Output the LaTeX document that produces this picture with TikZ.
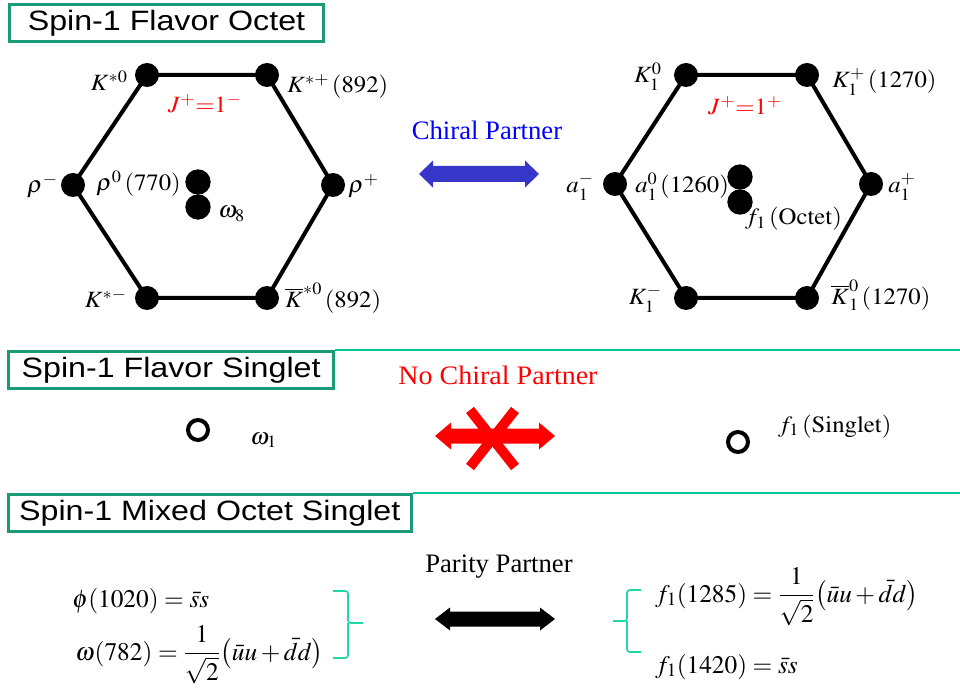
\documentclass[tikz,border=0pt]{standalone}
\usepackage{mathptmx}
\usepackage{fontspec}
\setmainfont{Liberation Serif}
\newfontfamily\titlefont{Liberation Sans}
\usepackage{graphicx}
\definecolor{boxgreen}{HTML}{1B9A78}
\definecolor{linegreen}{HTML}{00C896}
\definecolor{bracegreen}{HTML}{1ED8A8}
\definecolor{arrowblue}{HTML}{3636C8}
\newcommand\hsx[1]{\scalebox{1.06}[1]{#1}}
\newcommand\tsx[1]{\scalebox{1.15}[1]{#1}}
% colour, x1, x2, y, shaft half, head half, head length
\newcommand\fatdarrow[7]{%
  \fill[#1] (#2,#4) -- ({#2+#7},{#4-#6}) -- ({#2+#7},{#4-#5}) -- ({#3-#7},{#4-#5})
    -- ({#3-#7},{#4-#6}) -- (#3,#4) -- ({#3-#7},{#4+#6}) -- ({#3-#7},{#4+#5})
    -- ({#2+#7},{#4+#5}) -- ({#2+#7},{#4+#6}) -- cycle;}
\begin{document}
\begin{tikzpicture}[x=0.75pt,y=-0.75pt,
  dot/.style={circle,fill=black,inner sep=0pt,minimum size=18pt},
  cdot/.style={circle,fill=black,inner sep=0pt,minimum size=19pt},
  odot/.style={circle,draw=black,line width=3pt,inner sep=0pt,minimum size=15pt},
  hexedge/.style={line width=3pt},
  hl/.style={inner sep=0pt,font=\fontsize{17.5}{20}\selectfont},
  eq/.style={inner sep=0pt,font=\fontsize{19}{22}\selectfont},
  titlebox/.style={draw=boxgreen,line width=2.2pt,inner sep=0pt,minimum height=28pt,
    anchor=north west,font=\fontsize{21}{24}\titlefont},
  sepline/.style={draw=linegreen,line width=1.2pt},
  bracel/.style={draw=bracegreen,line width=1.2pt,rounded corners=2pt},
  ptext/.style={inner sep=0pt,font=\fontsize{20}{24}\selectfont}]
\useasboundingbox (0,0) rectangle (960,691);

% ---------- titles ----------
\node[titlebox,minimum width=235.5pt] (t1) at (8,3) {\tsx{Spin-1 Flavor Octet}};
\node[titlebox,minimum width=244pt] (t2) at (7,350) {\tsx{Spin-1 Flavor Singlet}};
\node[titlebox,minimum width=302pt] (t3) at (7,493) {\tsx{Spin-1 Mixed Octet Singlet}};
\coordinate (l2) at (960,350);
\coordinate (l3) at (960,493);
\draw[sepline] (t2.north east) -- (l2);
\draw[sepline] (t3.north east) -- (l3);

% ---------- left hexagon ----------
\node[dot] (L1) at (147,75) {};
\node[dot] (L2) at (267,75) {};
\node[dot] (L3) at (333,185) {};
\node[dot] (L4) at (267,298) {};
\node[dot] (L5) at (147,298) {};
\node[dot] (L6) at (73,185) {};
\draw[hexedge] (L1.center) -- (L2.center) -- (L3.center) -- (L4.center) -- (L5.center) -- (L6.center) -- cycle;
\node[cdot] (LC1) at (198,182) {};
\node[cdot] (LC2) at (198,207) {};

\node[hl,anchor=base east] (lk0) at (128,91) {\hsx{$K^{*0}$}};
\node[hl,anchor=base west] (lkp) at (287,93) {\hsx{$K^{*+}\,(892)$}};
\node[hl,anchor=base,text=red] (lj) at (205,113) {\hsx{$J^{+}{=}1^{-}$}};
\node[hl,anchor=base east] (lrm) at (58,193) {\hsx{$\rho^{-}$}};
\node[hl,anchor=base west] (lr0) at (96,191) {\hsx{$\rho^{0}\,(770)$}};
\node[hl,anchor=base west] (lw8) at (218,218) {\hsx{$\omega_{8}$}};
\node[hl,anchor=base west] (lrp) at (348,193) {\hsx{$\rho^{+}$}};
\node[hl,anchor=base east] (lkm) at (127,308) {\hsx{$K^{*-}$}};
\node[hl,anchor=base west] (lkb) at (285,308) {\hsx{$\overline{K}^{*0}\,(892)$}};

% ---------- chiral partner ----------
\node[ptext,text=blue,anchor=base] (cp) at (487,140) {Chiral Partner};
\fatdarrow{arrowblue}{419}{539}{174}{8}{13.5}{14}

% ---------- right hexagon ----------
\node[dot] (R1) at (686,75) {};
\node[dot] (R2) at (807,75) {};
\node[dot] (R3) at (871,184) {};
\node[dot] (R4) at (807,298) {};
\node[dot] (R5) at (686,298) {};
\node[dot] (R6) at (615,184) {};
\draw[hexedge] (R1.center) -- (R2.center) -- (R3.center) -- (R4.center) -- (R5.center) -- (R6.center) -- cycle;
\node[cdot] (RC1) at (740,177) {};
\node[cdot] (RC2) at (740,202) {};

\node[hl,anchor=base east] (rk0) at (662,83) {\hsx{$K_{1}^{0}$}};
\node[hl,anchor=base west] (rkp) at (832,88) {\hsx{$K_{1}^{+}\,(1270)$}};
\node[hl,anchor=base,text=red] (rj) at (745,115) {\hsx{$J^{+}{=}1^{+}$}};
\node[hl,anchor=base east] (ram) at (594,193) {\hsx{$a_{1}^{-}$}};
\node[hl,anchor=base west] (ra0) at (635,193) {\hsx{$a_{1}^{0}\,(1260)$}};
\node[hl,anchor=base west] (rf1) at (745,225) {\hsx{$f_{1}\,(\mathrm{Octet})$}};
\node[hl,anchor=base west] (rap) at (888,193) {\hsx{$a_{1}^{+}$}};
\node[hl,anchor=base east] (rkm) at (662,305) {\hsx{$K_{1}^{-}$}};
\node[hl,anchor=base west] (rkb) at (831,305) {\hsx{$\overline{K}_{1}^{0}\,(1270)$}};

% ---------- singlet row ----------
\node[ptext,text=red,anchor=base] (ncp) at (498,385) {\scalebox{1.05}[1]{No Chiral Partner}};
\node[odot] (w1) at (198,430) {};
\node[hl,anchor=base west] (w1l) at (250,444) {\hsx{$\omega_{1}$}};
\node[odot] (f1s) at (738,442) {};
\node[hl,anchor=base west] (f1l) at (778,432) {\hsx{$f_{1}\,(\mathrm{Singlet})$}};
\draw[red,line width=7.5pt] (470,410) -- (515,467);
\draw[red,line width=7.5pt] (515,410) -- (470,467);
\fatdarrow{red}{435}{555}{436}{7.5}{13.5}{16}

% ---------- mixed row ----------
\node[eq,anchor=base west] (phi) at (72,607) {$\phi(1020)=\bar{s}s$};
\node[eq,anchor=base west] (om) at (75,660) {$\omega(782)=\displaystyle\frac{1}{\sqrt{2}}\bigl(\bar{u}u+\bar{d}d\bigr)$};
\coordinate (b1a) at (333,591);
\coordinate (b1b) at (333,658);
\coordinate (b1m) at (348,623);
\coordinate (b1t) at (363,623);
\draw[bracel] (b1a) -| (b1m) -- (b1t);
\draw[bracel] (b1b) -| (b1m);

\node[ptext,anchor=base] (pp) at (499,572) {Parity Partner};
\fatdarrow{black}{435}{555}{619}{7.5}{11.5}{15}

\coordinate (b2a) at (641,590);
\coordinate (b2b) at (641,652);
\coordinate (b2m) at (627,621);
\coordinate (b2t) at (613,621);
\draw[bracel] (b2a) -| (b2m) -- (b2t);
\draw[bracel] (b2b) -| (b2m);
\node[eq,anchor=base west] (f85) at (655,602) {$f_{1}(1285)=\displaystyle\frac{1}{\sqrt{2}}\bigl(\bar{u}u+\bar{d}d\bigr)$};
\node[eq,anchor=base west] (f20) at (655,673) {$f_{1}(1420)=\bar{s}s$};
\end{tikzpicture}
\end{document}
